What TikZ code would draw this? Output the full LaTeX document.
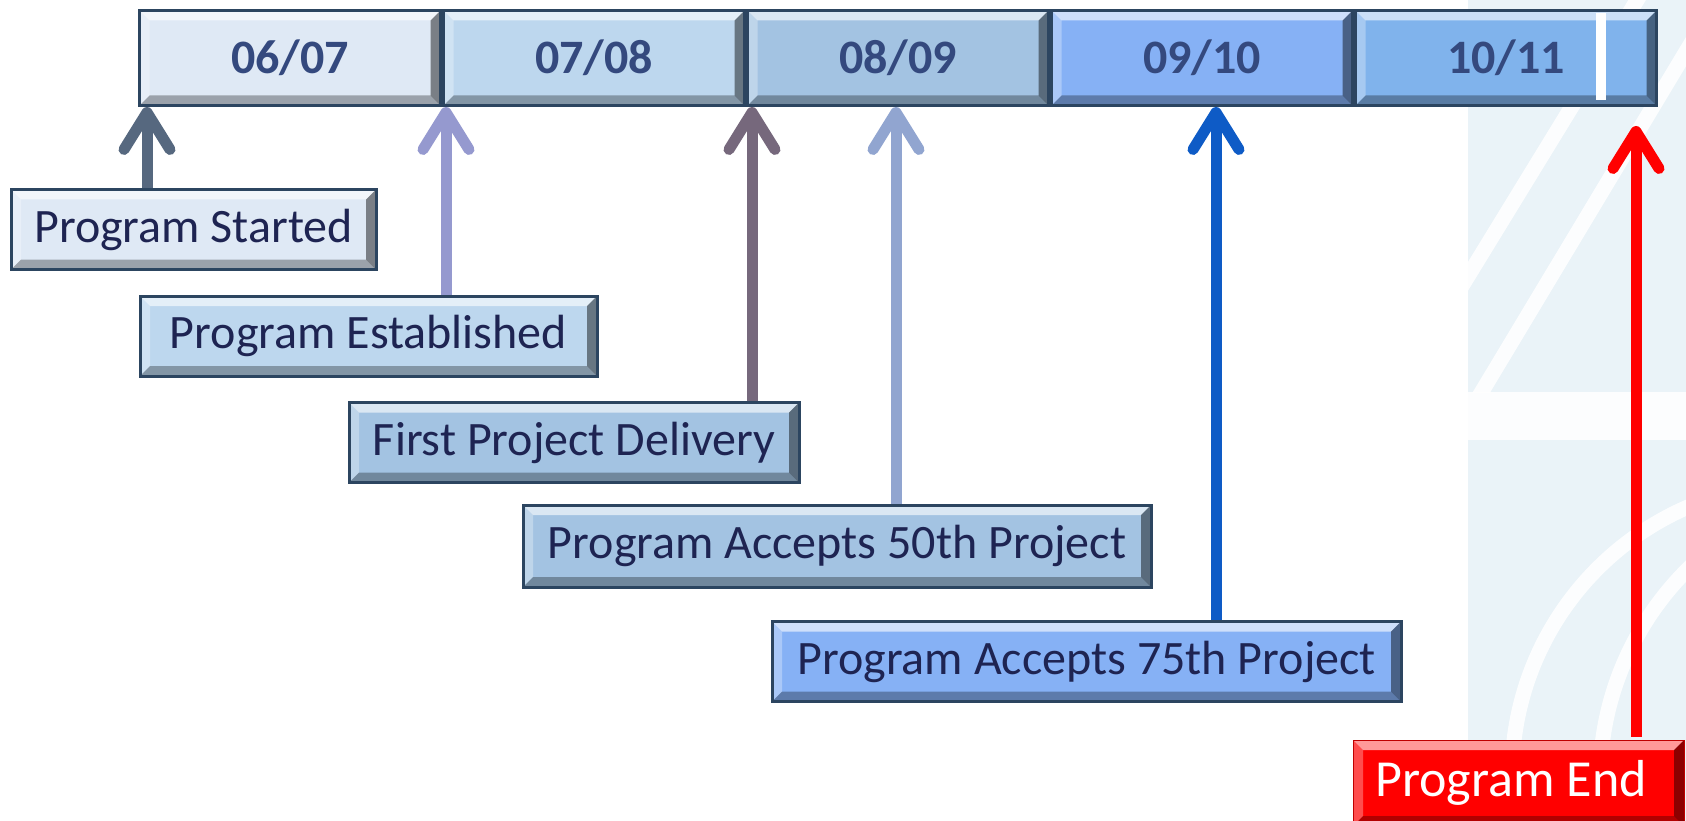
\documentclass[tikz,border=0pt]{standalone}
\usepackage{fontspec}
\setmainfont{Carlito}
\usetikzlibrary{arrows.meta, positioning}

\definecolor{rim}{HTML}{2C4560}
\definecolor{ink}{HTML}{1E2452}
\definecolor{yrink}{HTML}{34497E}
\definecolor{yrA}{HTML}{DFE9F5}
\definecolor{yrB}{HTML}{BDD7EE}
\definecolor{yrC}{HTML}{A3C3E2}
\definecolor{yrD}{HTML}{86B1F5}
\definecolor{yrE}{HTML}{80B3EC}
\definecolor{arA}{HTML}{56687F}
\definecolor{arB}{HTML}{9599CF}
\definecolor{arC}{HTML}{76687C}
\definecolor{arD}{HTML}{91A5D0}
\definecolor{arE}{HTML}{0E5BC6}
\definecolor{panel}{HTML}{EAF3F8}

\tikzset{
  % raised look: light top/left, dark bottom/right
  bevel/.style = {path picture={
      \path (path picture bounding box.north west) coordinate (nw)
            (path picture bounding box.north east) coordinate (ne)
            (path picture bounding box.south west) coordinate (sw)
            (path picture bounding box.south east) coordinate (se);
      \fill[draw=none, white, opacity=.6] (nw) -- (ne) -- ([shift={(-10pt,-10pt)}]ne)
          -- ([shift={(10pt,-10pt)}]nw) -- cycle;
      \fill[draw=none, white, opacity=.3] (nw) -- ([shift={(10pt,-10pt)}]nw)
          -- ([shift={(10pt,10pt)}]sw) -- (sw) -- cycle;
      \fill[draw=none, black, opacity=.3] (sw) -- (se) -- ([shift={(-10pt,10pt)}]se)
          -- ([shift={(10pt,10pt)}]sw) -- cycle;
      \fill[draw=none, black, opacity=.45] (ne) -- (se) -- ([shift={(-10pt,10pt)}]se)
          -- ([shift={(-10pt,-10pt)}]ne) -- cycle;
  }},
  seg/.style = {draw=rim, line width=3pt, bevel, inner sep=0pt,
    minimum width=301pt, minimum height=95pt, text=yrink,
    font=\fontsize{48}{58}\selectfont\bfseries},
  ev/.style = {draw=rim, line width=3pt, bevel, inner sep=0pt,
    minimum height=80pt, text=ink, font=\fontsize{48}{58}\selectfont},
  tl/.style = {line width=11pt, -{Straight Barb[length=37pt, width=46pt, round]}}
}

\begin{document}
\begin{tikzpicture}[x=1pt, y=-1pt]
\clip (0,0) rectangle (1686,821);
\fill[white] (0,0) rectangle (1686,821);

% faint backdrop on the right
\fill[panel] (1468,0) rectangle (1686,821);
\begin{scope}
  \clip (1468,0) rectangle (1686,392);
  \draw[white, line width=15pt, opacity=.9] (1440,322) -- (1680,-70);
  \draw[white, line width=15pt, opacity=.9] (1460,428) -- (1720,-5);
\end{scope}
\fill[white, opacity=.9] (1468,392) rectangle (1686,440);
\begin{scope}
  \clip (1468,440) rectangle (1686,821);
  \draw[white, line width=15pt, opacity=.9] (1804,775) circle [radius=292];
  \draw[white, line width=15pt, opacity=.9] (1897,780) circle [radius=297];
\end{scope}

% year bar
\node[seg, fill=yrA, anchor=north west] (yr1) at (138,9) {06/07};
\node[seg, fill=yrB, right=0pt of yr1] (yr2) {07/08};
\node[seg, fill=yrC, right=0pt of yr2] (yr3) {08/09};
\node[seg, fill=yrD, right=0pt of yr3] (yr4) {09/10};
\node[seg, fill=yrE, right=0pt of yr4] (yr5) {10/11};
\fill[white] (1596,13) rectangle (1606,100);

% milestones
\node[ev, fill=yrA, minimum width=365pt] (started) at (193.5,229.5) {Program Started};
\node[ev, fill=yrB, minimum width=457pt] (estab) at (368.5,336) {Program Established};
\node[ev, fill=yrC, minimum width=450pt] (deliv) at (574,442.5) {First Project Delivery};
\node[ev, fill=yrC, minimum width=628pt, minimum height=82pt] (fifty) at (837,546) {Program Accepts 50th Project};
\node[ev, fill=yrD, minimum width=629pt] (seventy) at (1086.5,661.5) {Program Accepts 75th Project};
\node[ev, fill=red, draw=red!75!black, line width=1pt, text=white,
  font=\fontsize{52}{62}\selectfont,
  minimum width=331pt, minimum height=86pt] (fin) at (1518.5,783) {\hspace*{-15pt}Program End};

% where each arrow meets the bar
\coordinate (m1) at (147,0);
\coordinate (m2) at (446,0);
\coordinate (m3) at (752,0);
\coordinate (m4) at (896,0);
\coordinate (m5) at (1216,0);
\coordinate (m6) at (1636,0);

\draw[tl, arA] (started.north -| m1) -- (yr1.south -| m1);
\draw[tl, arB] (estab.north -| m2) -- (yr2.south -| m2);
\draw[tl, arC] (deliv.north -| m3) -- (yr3.south -| m3);
\draw[tl, arD] (fifty.north -| m4) -- (yr3.south -| m4);
\draw[tl, arE] (seventy.north -| m5) -- (yr4.south -| m5);
\draw[tl, red, shorten >=19pt] ([yshift=3pt]fin.north -| m6) -- (yr5.south -| m6);
\end{tikzpicture}
\end{document}
